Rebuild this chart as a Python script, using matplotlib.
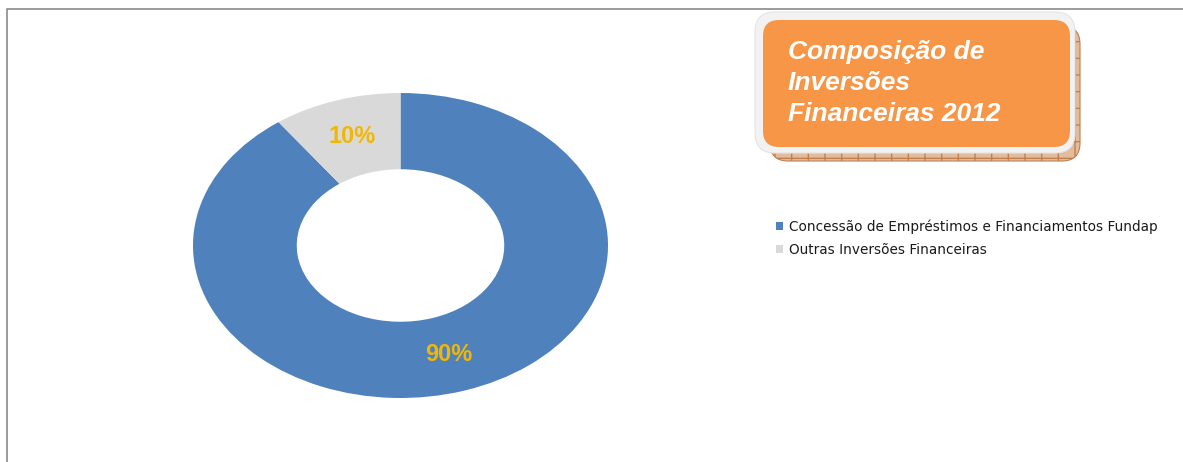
import matplotlib
matplotlib.use('Agg')
import matplotlib.pyplot as plt
from matplotlib.patches import FancyBboxPatch

# Composição de inversões financeiras - 2012
categories = ['Concessão de Empréstimos e Financiamentos Fundap',
              'Outras Inversões Financeiras']
values = [90, 10]
colors = ['#4F81BD', '#D9D9D9']
title_lines = ['Composição de', 'Inversões', 'Financeiras 2012']

W, H = 1183, 462
fig = plt.figure(figsize=(W / 100, H / 100), dpi=100)
fig.patch.set_facecolor('white')

# background layer in pixel units for the frame and the title box
bg = fig.add_axes([0, 0, 1, 1])
bg.set_xlim(0, W)
bg.set_ylim(H, 0)
bg.axis('off')
bg.plot([7, 7, W], [H, 9, 9], color='#8a8a8a', lw=1.2, solid_capstyle='butt')

# title box: shadow, light rim, orange face
shadow = FancyBboxPatch((770, 26), 310, 135, boxstyle='round,pad=0,rounding_size=18',
                        facecolor='#E2BC9C', edgecolor='#C0814F', hatch='+', lw=0.8)
rim = FancyBboxPatch((755, 12), 320, 141, boxstyle='round,pad=0,rounding_size=20',
                     facecolor='#F2F2F2', edgecolor='#E4E4E4', lw=0.8)
face = FancyBboxPatch((763, 20), 307, 127, boxstyle='round,pad=0,rounding_size=16',
                      facecolor='#F79646', edgecolor='none')
for p in (shadow, rim, face):
    bg.add_patch(p)
bg.text(788, 40, '\n'.join(title_lines), color='white', fontsize=19,
        fontfamily='Liberation Sans', fontweight='bold', fontstyle='italic',
        va='top', ha='left', linespacing=1.37)

# donut, stretched horizontally like the original sheet
ax = fig.add_axes([193 / W, (H - 398) / H, 415 / W, 305 / H])
wedges, _, autotexts = ax.pie(values, colors=colors, startangle=90, counterclock=False,
                              radius=1.0, autopct='%1.0f%%', pctdistance=0.75,
                              wedgeprops=dict(width=0.5, edgecolor='none'),
                              textprops=dict(color='#F2B705', fontsize=17,
                                             fontweight='bold',
                                             fontfamily='Liberation Sans'))
ax.set_aspect('auto')
ax.set_xlim(-1, 1)
ax.set_ylim(-1, 1)

fig.legend(wedges, categories, loc='upper left',
           bbox_to_anchor=(776 / W, 1 - 219 / H), frameon=False,
           prop=dict(family='DejaVu Sans', size=9.8), labelcolor='#1a1a1a',
           handlelength=0.55, handleheight=0.55, handletextpad=0.4,
           labelspacing=0.68, borderpad=0, borderaxespad=0)

fig.savefig('out.png', dpi=100, facecolor='white')
